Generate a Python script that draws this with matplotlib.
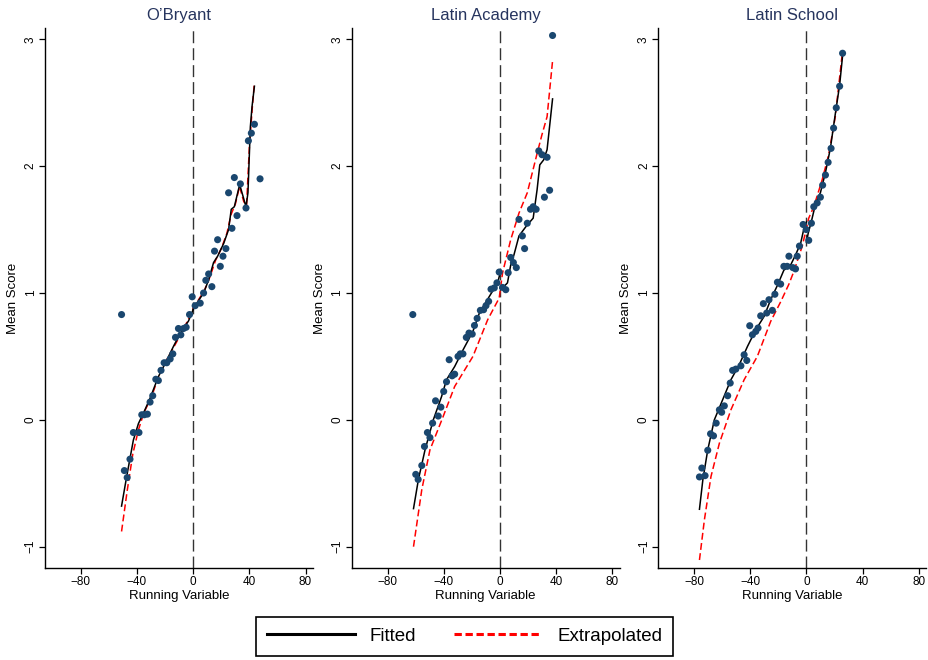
import numpy as np
import matplotlib
matplotlib.use('Agg')
import matplotlib.pyplot as plt
from matplotlib.lines import Line2D

plt.rcParams['font.family'] = ['Liberation Sans', 'DejaVu Sans']

schools = ["O\u2019Bryant", 'Latin Academy', 'Latin School']

# binned means (running variable, mean score)
obryant_x = [-51, -49, -47, -45, -42.6, -38.6, -36.6, -34.8, -32.6, -30.7, -28.8, -26.6, -24.8,
             -22.9, -20.7, -18.8, -16.4, -14.5, -12.6, -10.5, -8.8, -6.9, -5, -2.6, -0.7, 1.4,
             5, 7.4, 9, 11, 13.3, 15.2, 17.4, 19.3, 21.2, 23.3, 25.2, 27.6, 29.3, 31.2, 33.6,
             37.6, 39.3, 41.4, 43.6, 47.6]
obryant_y = [0.83, -0.40, -0.455, -0.31, -0.10, -0.10, 0.04, 0.04, 0.045, 0.14, 0.19, 0.32, 0.31,
             0.39, 0.45, 0.45, 0.48, 0.52, 0.65, 0.72, 0.67, 0.72, 0.73, 0.83, 0.97, 0.90,
             0.92, 1.0, 1.10, 1.15, 1.05, 1.33, 1.42, 1.21, 1.29, 1.35, 1.79, 1.51, 1.91, 1.61, 1.86,
             1.67, 2.20, 2.26, 2.33, 1.90]

academy_x = [-62, -59.9, -58.2, -55.6, -53.7, -51.6, -49.8, -47.9, -45.8, -43.9, -42, -40, -38,
             -36.1, -34, -32.2, -29.8, -28.2, -26.3, -23.9, -22, -19.7, -18.1, -16.2, -13.9, -11.6,
             -9.9, -8, -6.3, -4, -2.1, -0.5, 1.9, 4.2, 5.9, 7.7, 9.6, 11.7, 13.6, 16, 17.6, 19.5,
             21.8, 23.7, 25.8, 27.7, 30, 31.7, 33.6, 35.4, 37.5]
academy_y = [0.83, -0.43, -0.47, -0.36, -0.21, -0.10, -0.14, -0.026, 0.15, 0.03, 0.10, 0.224, 0.30,
             0.474, 0.347, 0.36, 0.50, 0.52, 0.52, 0.65, 0.684, 0.676, 0.744, 0.80, 0.863, 0.868,
             0.90, 0.934, 1.03, 1.04, 1.08, 1.165, 1.044, 1.026, 1.16, 1.28, 1.24, 1.20, 1.58, 1.45, 1.35, 1.55,
             1.66, 1.68, 1.66, 2.12, 2.09, 1.755, 2.07, 1.81, 3.03]

school_x = [-76.2, -74.5, -72.2, -70.3, -68.3, -66.2, -64.3, -62, -60.4, -58.5, -56.1, -54.3, -52.6,
            -50.3, -46.7, -44.4, -42.5, -40.4, -38.5, -36.1, -34.5, -32.6, -30.7, -28.3, -26.7, -24.3,
            -22.5, -20.7, -18.4, -16.1, -13.7, -12.5, -9.7, -7.8, -6.6, -5, -2.4, -0.2, 1.6, 3.5,
            5.2, 7.6, 9.9, 11.5, 13.5, 15.4, 17.5, 19.3, 21.2, 23.6, 25.7]
school_y = [-0.45, -0.38, -0.44, -0.24, -0.11, -0.126, -0.026, 0.079, 0.06, 0.11, 0.19, 0.29, 0.39,
            0.40, 0.426, 0.513, 0.468, 0.742, 0.671, 0.697, 0.724, 0.82, 0.916, 0.842, 0.947, 0.863,
            0.99, 1.085, 1.07, 1.21, 1.21, 1.29, 1.20, 1.19, 1.29, 1.37, 1.54, 1.50, 1.415, 1.55,
            1.68, 1.71, 1.755, 1.85, 1.93, 2.03, 2.14, 2.30, 2.46, 2.63, 2.89]

# fitted lines, left and right of the cutoff
obryant_fit_left_x = [-51, -47.4, -42.6, -39, -34.3, -30.7, -24.8, -18.8, -14, -9.3, -3.3, 0]
obryant_fit_left_y = [-0.68, -0.45, -0.16, -0.03, 0.08, 0.17, 0.34, 0.47, 0.58, 0.68, 0.78, 0.87]
obryant_fit_right_x = [0, 1.4, 7.4, 10.9, 14.5, 17.4, 21.7, 25.2, 27.1, 29.3, 33.1, 37.6, 39, 40.7, 41.9, 43.6]
obryant_fit_right_y = [0.87, 0.90, 1.0, 1.10, 1.24, 1.29, 1.39, 1.50, 1.66, 1.68, 1.855, 1.68, 1.79, 2.31, 2.47, 2.63]
obryant_ext_x = [-51, -47, -43, -39, -35, -30, -25, -19, -14, -9, -4, 0, 4, 8, 12, 16, 20, 24, 27,
                 30, 33, 36, 38, 40, 42, 43.6]
obryant_ext_y = [-0.88, -0.56, -0.27, -0.08, 0.06, 0.17, 0.33, 0.47, 0.57, 0.67, 0.78, 0.88, 0.95,
                 1.02, 1.13, 1.26, 1.35, 1.47, 1.62, 1.70, 1.84, 1.72, 1.69, 2.15, 2.45, 2.66]

academy_fit_left_x = [-61.5, -58, -53.3, -47.4, -41.5, -38, -32.2, -26.3, -19.2, -14.6, -7.5, -1.6, 0]
academy_fit_left_y = [-0.70, -0.47, -0.237, 0.0, 0.184, 0.316, 0.42, 0.55, 0.697, 0.842, 0.973, 1.08, 1.15]
academy_fit_right_x = [0, 2, 5.4, 7.7, 10, 13.6, 19, 23.7, 26.5, 28.4, 31.2, 33.6, 37.5]
academy_fit_right_y = [1.04, 1.04, 1.08, 1.22, 1.30, 1.45, 1.53, 1.59, 1.815, 2.01, 2.05, 2.13, 2.53]
academy_ext_x = [-61.5, -55.6, -49.8, -40.4, -32.2, -19.2, -8.7, -0.5, 1.9, 7.7, 13.6, 19.5, 26.5, 30, 33.6, 37.5]
academy_ext_y = [-1.0, -0.55, -0.237, 0.026, 0.263, 0.50, 0.789, 0.96, 1.158, 1.42, 1.63, 1.79, 2.10, 2.25, 2.39, 2.83]

school_fit_left_x = [-76.2, -73.8, -70.3, -65.6, -59.7, -53.8, -47.9, -42, -36.1, -30.2, -25.5,
                     -20.7, -16.1, -11.3, -7.8, -4.2, -1.4, 0]
school_fit_left_y = [-0.705, -0.474, -0.237, 0.0, 0.158, 0.316, 0.434, 0.579, 0.71, 0.815, 0.947,
                     1.06, 1.18, 1.22, 1.30, 1.39, 1.53, 1.56]
school_fit_right_x = [0, 1.2, 3.5, 6.4, 9.9, 13.5, 17, 20.5, 23.6, 25.7]
school_fit_right_y = [1.40, 1.47, 1.565, 1.70, 1.79, 1.95, 2.14, 2.41, 2.64, 2.87]
school_ext_x = [-76.2, -72.7, -68, -62, -53.8, -44.4, -35, -25.5, -18.4, -12.5, -9, -3, 1.6, 5.2,
                11.1, 15.8, 20.5, 25.3]
school_ext_y = [-1.105, -0.79, -0.447, -0.184, 0.079, 0.316, 0.50, 0.776, 0.93, 1.07, 1.17, 1.37,
                1.59, 1.68, 1.89, 2.09, 2.39, 2.87]

points = [(obryant_x, obryant_y), (academy_x, academy_y), (school_x, school_y)]
fits = [(obryant_fit_left_x, obryant_fit_left_y, obryant_fit_right_x, obryant_fit_right_y),
        (academy_fit_left_x, academy_fit_left_y, academy_fit_right_x, academy_fit_right_y),
        (school_fit_left_x, school_fit_left_y, school_fit_right_x, school_fit_right_y)]
exts = [(obryant_ext_x, obryant_ext_y), (academy_ext_x, academy_ext_y), (school_ext_x, school_ext_y)]

x_ticks = [-80, -40, 0, 40, 80]
y_ticks = [-1, 0, 1, 2, 3]

navy = '#1a476f'
title_color = '#26345e'
red_dash = (4.5, 2.2)

fig = plt.figure(figsize=(9.29, 6.6), dpi=100)
lefts = [45 / 929, 351.7 / 929, 658.3 / 929]

for i in range(3):
    ax = fig.add_axes([lefts[i], 92 / 660, 268 / 929, 540 / 660])
    # cutoff
    ax.axvline(0, color='0.2', lw=1.0, dashes=(8.6, 3.6), zorder=1)
    # extrapolated, then fitted, then points
    ex, ey = exts[i]
    ax.plot(ex, ey, color='red', lw=1.1, dashes=red_dash, zorder=2)
    lx, ly, rx, ry = fits[i]
    ax.plot(lx, ly, color='black', lw=1.1, zorder=3)
    ax.plot(rx, ry, color='black', lw=1.1, zorder=3)
    px, py = points[i]
    ax.scatter(px, py, s=26, color=navy, edgecolors='none', zorder=4)

    ax.set_xlim(-105.5, 85.3)
    ax.set_ylim(-1.168, 3.089)
    ax.set_xticks(x_ticks)
    ax.set_xticklabels(['\u221280', '\u221240', '0', '40', '80'])
    ax.set_yticks(y_ticks)
    ax.set_yticklabels(['\u22121', '0', '1', '2', '3'], rotation=90, va='center')
    ax.tick_params(direction='out', length=4, width=0.9, labelsize=8.5, pad=2)
    ax.spines['top'].set_visible(False)
    ax.spines['right'].set_visible(False)
    ax.spines['left'].set_linewidth(1.0)
    ax.spines['bottom'].set_linewidth(1.0)
    ax.set_xlabel('Running Variable', fontsize=9.5, labelpad=1)
    ax.set_ylabel('Mean Score', fontsize=9.5, labelpad=4)
    ax.set_title(schools[i], fontsize=12, color=title_color, pad=6)

handles = [Line2D([], [], color='black', lw=2.2),
           Line2D([], [], color='red', lw=2.2, dashes=(2.4, 1.2))]
leg = fig.legend(handles, ['Fitted', 'Extrapolated'], loc='lower center', bbox_to_anchor=(0.5, 0.0),
                 ncol=2, fontsize=13.5, frameon=True, fancybox=False, edgecolor='black',
                 framealpha=1.0, handlelength=4.7, handletextpad=0.8, columnspacing=2.0,
                 borderpad=0.6, borderaxespad=0.2)
leg.get_frame().set_linewidth(1.2)

plt.savefig('out.png', dpi=100)
